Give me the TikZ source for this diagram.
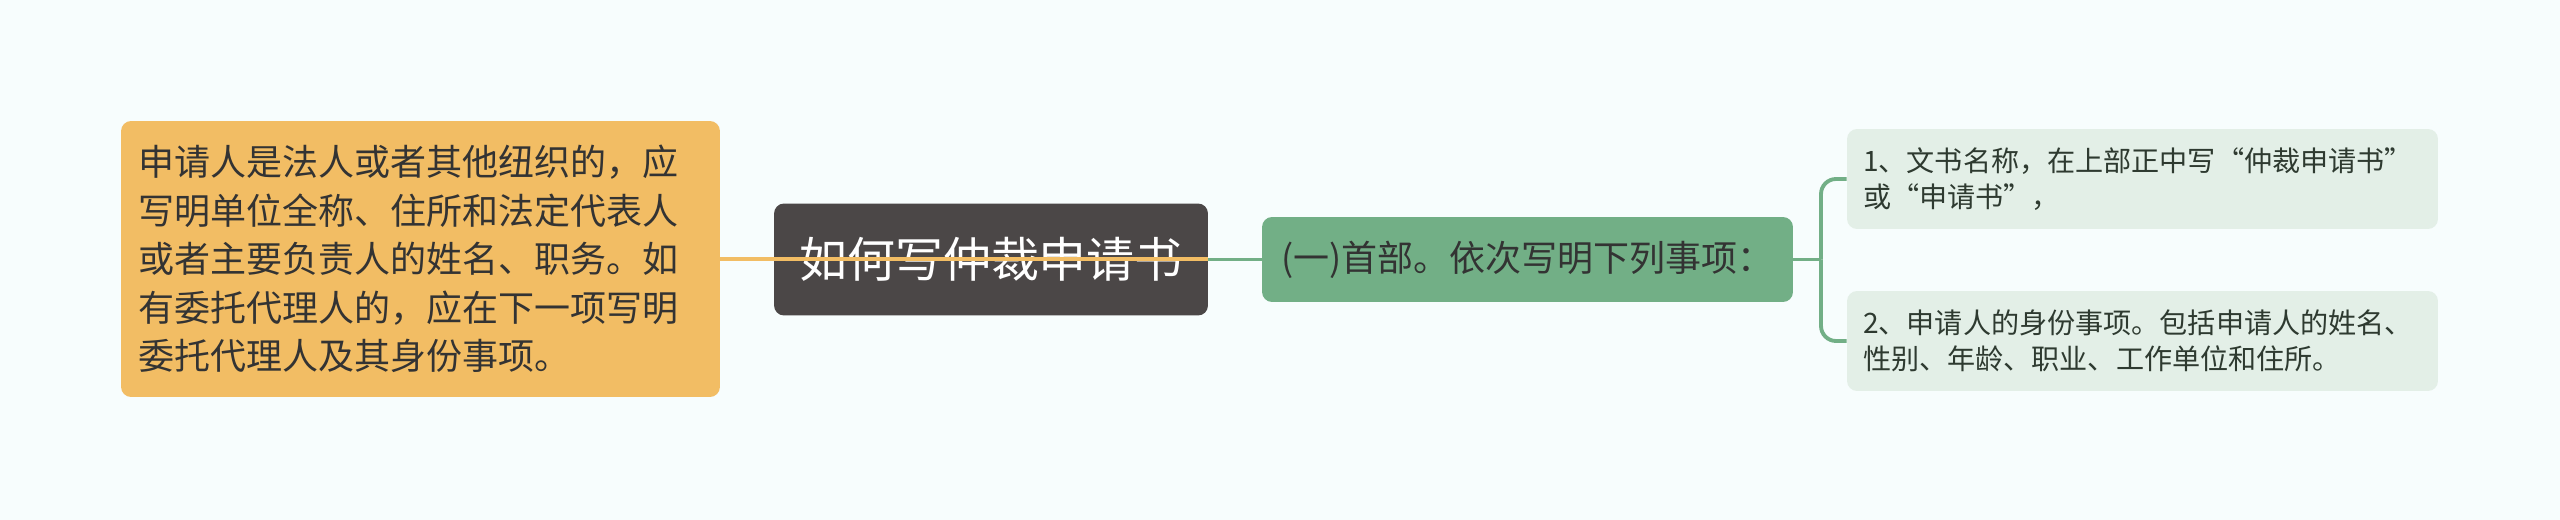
\documentclass[tikz,border=0pt]{standalone}
\usepackage{fontspec}
\setmainfont{Noto Sans CJK SC}
\usepackage{tikz}
\usetikzlibrary{positioning}
\definecolor{bgcol}{HTML}{F7FDFD}
\definecolor{orangecol}{HTML}{F2BD64}
\definecolor{darkcol}{HTML}{4B4747}
\definecolor{greencol}{HTML}{72AF86}
\definecolor{palecol}{HTML}{E3EFE7}
\definecolor{txtcol}{HTML}{333333}
\definecolor{leafcol}{HTML}{2E3A30}

\begin{document}
\begin{tikzpicture}[x=0.02cm,y=-0.02cm,
		box/.style={rounded corners=0.2cm, inner ysep=0pt, align=left},
		leaf/.style={box, fill=palecol, text=leafcol, font=\fontsize{16}{20.4}\selectfont,
			text width=11.18cm, inner xsep=0.32cm, minimum height=2cm},
		link/.style={line width=2.2pt}]
			
			\fill[bgcol] (0,0) rectangle (2560,520);
			\useasboundingbox (0,0) rectangle (2560,520);
			
			% left topic
			\node[box, fill=orangecol, text=txtcol, font=\fontsize{20.5}{27.6}\selectfont,
				text width=11.3cm, inner xsep=0.34cm, minimum height=5.52cm] (applicant) at (420.5,259)
				{申请人是法人或者其他纽织的，应\\写明单位全称、住所和法定代表人\\或者主要负责人的姓名、职务。如\\有委托代理人的，应在下一项写明\\委托代理人及其身份事项。};
			
			% central topic
			\node[box, fill=darkcol, text=white, font=\fontsize{27.3}{32}\selectfont, align=center,
				minimum width=8.68cm, minimum height=2.24cm] (root) at (991,259.5) {如何写仲裁申请书};
			
			% right topic
			\node[box, fill=greencol, text=txtcol, font=\fontsize{20.5}{24}\selectfont, align=center,
				minimum width=10.62cm, minimum height=1.7cm] (head) at (1527.5,259.5) {(一)首部。依次写明下列事项：};
			
			\node[leaf] (title) at (2142.5,179) {1、文书名称，在上部正中写“仲裁申请书”\\或“申请书”，};
			\node[leaf] (identity) at (2142.5,341) {2、申请人的身份事项。包括申请人的姓名、\\性别、年龄、职业、工作单位和住所。};
			
			\coordinate (fork) at (1821,259.5);
			
			\draw[link, greencol] (root.east) -- (head.west);
			\draw[link, greencol] (head.east) -- (fork);
			\draw[link, greencol, rounded corners=0.3cm] (fork) |- (title.west);
			\draw[link, greencol, rounded corners=0.3cm] (fork) |- (identity.west);
			\draw[link, orangecol] (applicant.east) -- (applicant.east -| root.east);
		\end{tikzpicture}
\end{document}
